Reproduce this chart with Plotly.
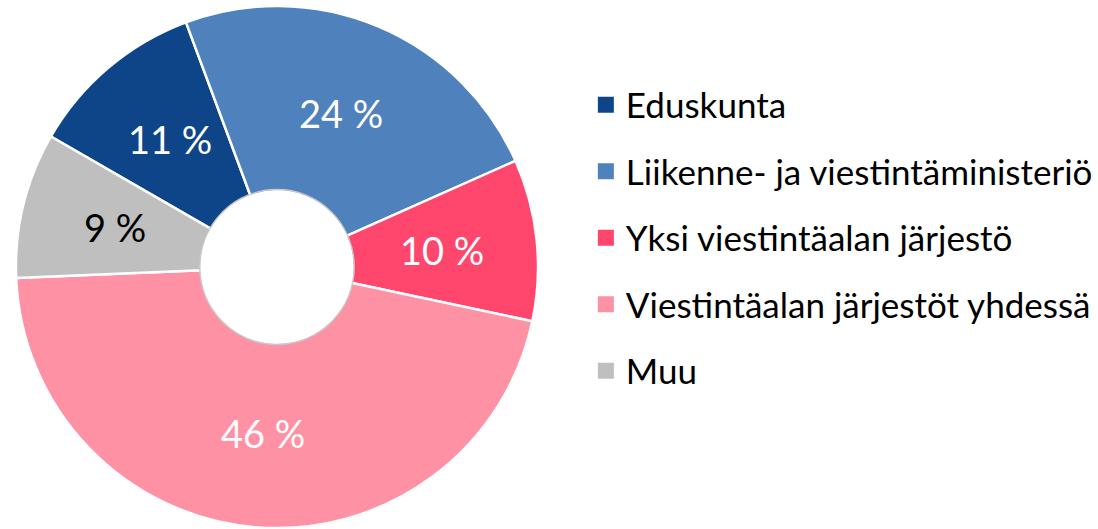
import math
import plotly.graph_objects as go

# Share of responses by party (percent)
labels = [
    "Eduskunta",
    "Liikenne- ja viestintäministeriö",
    "Yksi viestintäalan järjestö",
    "Viestintäalan järjestöt yhdessä",
    "Muu",
]
values = [11, 24, 10, 46, 9]
colors = ["#0D4588", "#4F81BD", "#FF466D", "#FF91A5", "#BFBFBF"]
text_colors = ["white", "white", "white", "white", "black"]

FONT = "Lato"
W, H = 1098, 529

# Pie geometry
dom_x = [16 / W, 540 / W]
dom_y = [0, 524 / H]
hole = 0.29
rotation = -60

fig = go.Figure()

fig.add_trace(go.Pie(
    labels=labels,
    values=values,
    sort=False,
    direction="clockwise",
    rotation=rotation,
    hole=hole,
    marker=dict(colors=colors, line=dict(color="white", width=2.5)),
    textinfo="none",
    domain=dict(x=dom_x, y=dom_y),
    showlegend=False,
    hoverinfo="label+percent",
))

# Percentage labels placed at the middle of each ring segment
cx = (dom_x[0] + dom_x[1]) / 2 * W
cy = (dom_y[0] + dom_y[1]) / 2 * H
R = min((dom_x[1] - dom_x[0]) * W, (dom_y[1] - dom_y[0]) * H) / 2
r_mid = R * (1 + hole) / 2 - 2
total = sum(values)
start = rotation
for v, tc in zip(values, text_colors):
    mid = math.radians(start + 360 * v / total / 2)
    start += 360 * v / total
    fig.add_annotation(
        x=(cx + r_mid * math.sin(mid)) / W,
        y=(cy + r_mid * math.cos(mid)) / H,
        xref="paper", yref="paper",
        text=f"{v} %",
        showarrow=False,
        font=dict(family=FONT, size=38, color=tc),
        xanchor="center", yanchor="middle",
    )

# Soft grey edge around the hole
rh = R * hole + 1.5
fig.add_shape(
    type="circle", xref="paper", yref="paper",
    x0=(cx - rh) / W, x1=(cx + rh) / W,
    y0=(cy - rh) / H, y1=(cy + rh) / H,
    line=dict(color="#C9C9C9", width=1.5),
    fillcolor="rgba(0,0,0,0)",
)

# Legend entries, one group each so the rows can be spaced apart
for name, col in zip(labels, colors):
    fig.add_trace(go.Scatter(
        x=[None], y=[None],
        mode="markers",
        name=name,
        legendgroup=name,
        marker=dict(symbol="square", size=17, color=col),
        hoverinfo="skip",
    ))

fig.update_layout(
    width=W,
    height=H,
    margin=dict(l=0, r=0, t=0, b=0),
    paper_bgcolor="white",
    plot_bgcolor="white",
    xaxis=dict(visible=False),
    yaxis=dict(visible=False),
    legend=dict(
        x=588 / W,
        y=0.55,
        xanchor="left",
        yanchor="middle",
        traceorder="grouped",
        tracegroupgap=18,
        font=dict(family=FONT, size=35, color="black"),
        itemclick=False,
        itemdoubleclick=False,
    ),
    font=dict(family=FONT),
)

fig.write_html("out.html")
